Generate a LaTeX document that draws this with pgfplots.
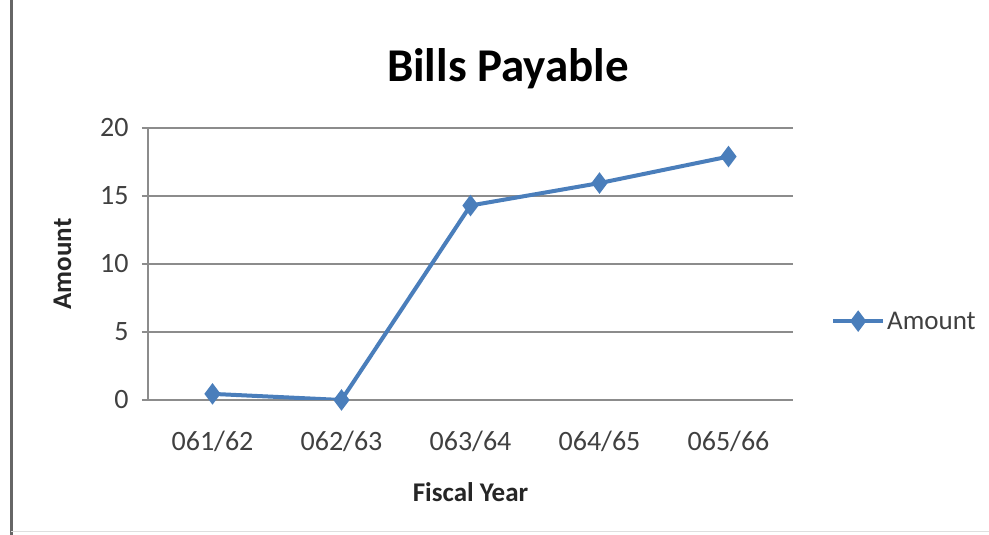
\documentclass[border=0pt]{standalone}
\usepackage{pgfplots}
\pgfplotsset{compat=1.18}
\usepackage{fontspec}
\setmainfont{Carlito}
\definecolor{xlblue}{RGB}{74,126,187}
\definecolor{gridgrey}{RGB}{140,140,140}
\begin{document}
\begin{tikzpicture}
\useasboundingbox (0,0) rectangle (989pt,535pt);
\fill[white] (0,0) rectangle (989pt,535pt);
\draw[gray!80!black, line width=3pt] (11pt,0) -- (11pt,535pt);
\draw[gray!25, line width=1pt] (11pt,3pt) -- (989pt,3pt);
\node[font=\fontsize{47}{50}\selectfont\bfseries] at (508pt,466pt) {Bills Payable};
\begin{axis}[
  at={(148pt,135pt)}, anchor=south west,
  scale only axis, width=645pt, height=272pt,
  xmin=-0.5, xmax=4.5, ymin=0, ymax=20,
  xtick={0,1,2,3,4},
  xticklabels={061/62,062/63,063/64,064/65,065/66},
  ytick={0,5,10,15,20},
  axis lines*=left,
  axis line style={gridgrey, line width=1.5pt},
  ymajorgrids, grid style={gridgrey, line width=1.5pt},
  tick align=outside,
  major tick length=6pt,
  ytick style={gridgrey, line width=1.5pt},
  xtick style={draw=none},
  tick label style={font=\fontsize{28}{32}\selectfont, text=black!75},
  /pgf/number format/assume math mode=true,
  xticklabel style={yshift=-22pt},
  yticklabel style={xshift=-10pt},
  xlabel={Fiscal Year},
  ylabel={Amount},
  label style={font=\fontsize{27}{30}\selectfont\bfseries, text=black!85},
  xlabel style={yshift=-24pt},
  ylabel style={yshift=22pt},
  legend style={at={(1,0.29)}, anchor=west, xshift=35pt, draw=none, fill=none,
    font=\fontsize{27}{30}\selectfont, text=black!75},
  legend cell align=left,
  legend image code/.code={\draw[#1, mark repeat=2, mark phase=2] plot coordinates {(0pt,0pt) (25pt,0pt) (50pt,0pt)};},
]
\addplot[xlblue, line width=4pt, mark=diamond*, mark size=7.5pt, mark options={solid, fill=xlblue}]
  coordinates {(0,0.45) (1,0) (2,14.3) (3,15.95) (4,17.9)};
\addlegendentry{Amount}
\end{axis}
\end{tikzpicture}
\end{document}
